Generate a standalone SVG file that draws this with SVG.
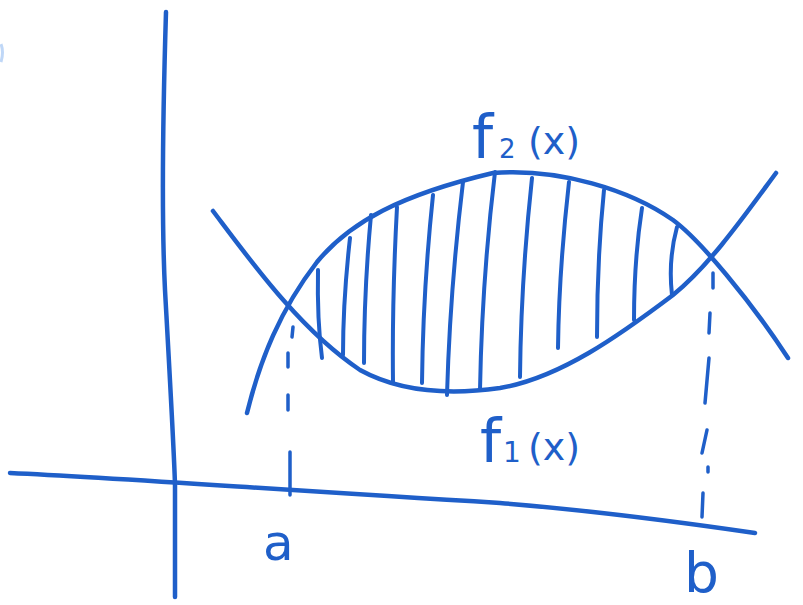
<svg xmlns="http://www.w3.org/2000/svg" width="803" height="605" viewBox="0 0 803 605">
<style>
.ink{fill:none;stroke:#1f5fc9;stroke-width:4.5;stroke-linecap:round;stroke-linejoin:round}
.hatch{fill:none;stroke:#1f5fc9;stroke-width:4;stroke-linecap:round}
.dash{fill:none;stroke:#1f5fc9;stroke-width:3.5;stroke-linecap:round}
.lbl{fill:#1f5fc9;font-family:"DejaVu Sans","Liberation Sans",sans-serif}
</style>
<rect width="803" height="605" fill="#ffffff"/>
<path d="M1,44 Q4,52 1,62" fill="none" stroke="#7fb0f0" stroke-width="3" opacity="0.5"/>
<g id="axes">
<path class="ink" d="M166,12 C163,110 161,210 165,290 C170,380 174,450 175,485 L175,597"/>
<path class="ink" d="M10,473 C120,478 250,488 500,503 C600,511 700,525 755,533"/>
</g>
<g id="hatching">
<path class="hatch" d="M318,270 Q317,320 322,358"/>
<path class="hatch" d="M350,238 Q343,300 343,355"/>
<path class="hatch" d="M371,215 Q364,290 364,363"/>
<path class="hatch" d="M397,207 Q392,300 393,382"/>
<path class="hatch" d="M433,195 Q423,290 422,383"/>
<path class="hatch" d="M463,182 Q450,290 447,395"/>
<path class="hatch" d="M495,172 Q482,280 480,390"/>
<path class="hatch" d="M532,178 Q521,280 520,377"/>
<path class="hatch" d="M569,182 Q559,270 558,348"/>
<path class="hatch" d="M604,190 Q597,260 597,337"/>
<path class="hatch" d="M642,208 Q634,260 634,320"/>
<path class="hatch" d="M677,227 Q668,260 672,295"/>
</g>
<g id="f2">
<path class="ink" d="M247,413 C260,360 280,310 317,262 C350,222 400,195 493,173 C560,168 630,190 673,220 C700,240 750,300 788,358"/>
</g>
<g id="f1">
<path class="ink" d="M213,211 C250,260 300,330 360,370 C400,392 450,395 500,388 C560,378 620,335 673,295 C710,265 745,215 776,173"/>
</g>
<g id="dashes">
<path class="dash" d="M293,327 L292,337 M288,353 L288,367 M288,395 L288,410 M290,452 L290,495"/>
<path class="dash" d="M713,273 L713,288 M710,313 L709,333 M709,358 L705,403 M707,430 L702,453 M708,467 L708,472 M703,493 L702,517"/>
</g>
<g id="label-f2">
<text class="lbl" y="158"><tspan x="472" font-size="60">f</tspan><tspan x="499" font-size="26">2</tspan><tspan x="528" y="154" font-size="38">(x)</tspan></text>
</g>
<g id="label-f1">
<text class="lbl" y="462"><tspan x="480" font-size="60">f</tspan><tspan x="503" font-size="28">1</tspan><tspan x="528" y="460" font-size="38">(x)</tspan></text>
</g>
<g id="label-a">
<text class="lbl" x="263" y="560" font-size="50">a</text>
</g>
<g id="label-b">
<text class="lbl" x="684" y="592" font-size="55">b</text>
</g>
</svg>
